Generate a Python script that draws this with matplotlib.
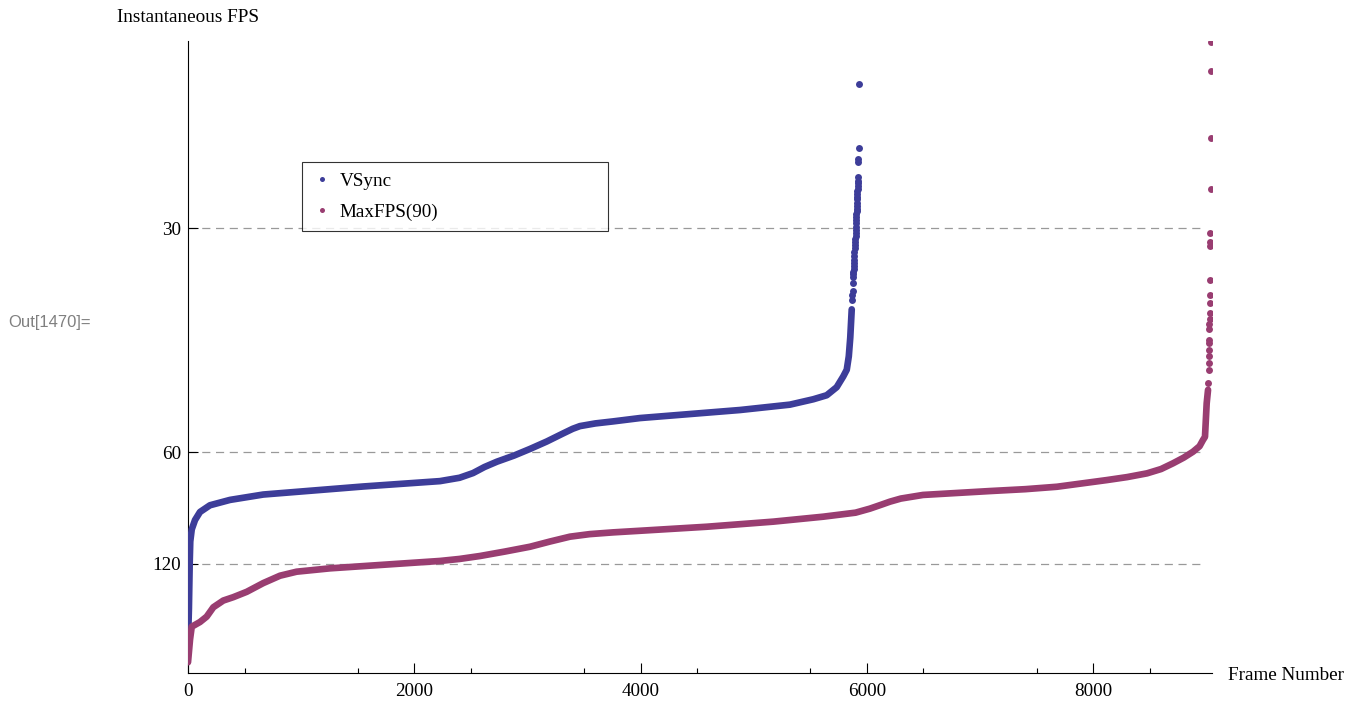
import numpy as np
import matplotlib.pyplot as plt
from matplotlib.lines import Line2D

plt.rcParams['font.family'] = ['Liberation Serif', 'DejaVu Serif']

# frame time in ms for sorted frames (y axis is 1/FPS, labelled in FPS)
vsync_frame = [0, 8, 15, 20, 33, 62, 106, 194, 371, 665, 1107, 1549, 2227, 2400, 2519,
               2620, 2731, 2880, 3023, 3170, 3314, 3400, 3464, 3600, 3756, 3995, 4437,
               4879, 5320, 5526, 5645, 5733, 5791, 5822, 5840, 5853, 5866]
vsync_ms = [2.5, 5.0, 8.4, 10.0, 10.9, 11.6, 12.2, 12.7, 13.1, 13.5, 13.8, 14.1, 14.5, 14.75,
            15.1, 15.55, 15.95, 16.4, 16.9, 17.45, 18.05, 18.4, 18.6, 18.8, 18.95, 19.2, 19.5,
            19.8, 20.2, 20.6, 20.9, 21.5, 22.3, 22.8, 23.8, 25.2, 27.3]
vsync_tail_frame = [5870, 5872, 5874, 5876, 5878, 5880, 5881, 5882, 5884, 5886, 5887, 5888,
                    5890, 5894, 5896, 5897, 5898, 5900, 5901, 5903, 5904, 5905, 5906, 5907,
                    5908, 5909, 5910, 5911, 5912, 5913, 5914, 5915, 5916, 5917, 5918, 5919,
                    5920, 5921, 5923, 5925, 5927, 5930]
vsync_tail_ms = [28.0, 28.35, 28.7, 29.3, 29.7, 29.9, 30.1, 30.3, 30.5, 30.75, 31.0, 31.3,
                 31.6, 31.9, 32.1, 32.3, 32.55, 32.8, 33.0, 33.2, 33.45, 33.7, 33.95, 34.2,
                 34.4, 34.6, 34.8, 35.0, 35.25, 35.5, 35.7, 35.9, 36.1, 36.3, 36.5, 36.7,
                 36.9, 37.2, 38.3, 38.5, 39.3, 44.1]

maxfps_frame = [0, 18, 33, 106, 165, 224, 312, 400, 519, 665, 813, 960, 1255, 1697, 2227,
                2400, 2581, 2800, 3023, 3200, 3376, 3550, 3756, 3995, 4348, 4584, 5173, 5615,
                5900, 6027, 6130, 6204, 6300, 6496, 7088, 7400, 7680, 8122, 8300, 8476,
                8600, 8706, 8800, 8882, 8940, 8970, 8988, 9003, 9015]
maxfps_ms = [1.0, 2.7, 3.65, 4.0, 4.4, 5.1, 5.6, 5.85, 6.25, 6.9, 7.45, 7.75, 8.0, 8.25, 8.55,
             8.7, 8.92, 9.25, 9.61, 10.0, 10.36, 10.55, 10.68, 10.8, 10.98, 11.1, 11.48, 11.85,
             12.15, 12.45, 12.75, 12.97, 13.2, 13.47, 13.76, 13.9, 14.08, 14.58, 14.8, 15.08,
             15.4, 15.83, 16.25, 16.69, 17.1, 17.56, 17.8, 20.3, 21.3]
maxfps_tail_frame = [9018, 9020, 9021, 9022, 9023, 9024, 9025, 9026, 9027, 9028, 9029,
                     9030, 9031, 9032, 9034, 9035, 9036, 9037, 9038, 9040, 9041]
maxfps_tail_ms = [21.8, 22.8, 23.3, 23.8, 24.3, 24.8, 25.0, 25.8, 26.2, 26.6, 27.0,
                  27.75, 28.4, 29.5, 32.0, 32.3, 33.0, 36.3, 40.1, 45.1, 47.2]

fps_ticks = [30, 60, 120]
series_names = ['VSync', 'MaxFPS(90)']
colors = ['#3D3D99', '#993D71']

W, H = 1362, 705
fig = plt.figure(figsize=(W / 100, H / 100), dpi=100)
ax = fig.add_axes([188 / W, 1 - 673 / H, (1212 - 188) / W, (673 - 41) / H])

lw = 4.8   # ~7 px band made of overlapping points
ms = 5.0
for fr, y, tfr, ty, c in [(vsync_frame, vsync_ms, vsync_tail_frame, vsync_tail_ms, colors[0]),
                          (maxfps_frame, maxfps_ms, maxfps_tail_frame, maxfps_tail_ms, colors[1])]:
    ax.plot(fr, y, color=c, lw=lw, solid_capstyle='round', solid_joinstyle='round', zorder=3)
    ax.plot(tfr, ty, 'o', color=c, ms=ms, mew=0, zorder=3)

ax.set_xlim(0, 9050)
ax.set_ylim(0.2, 47.3)

tick_ms = [1000 / f for f in fps_ticks]
ax.hlines(tick_ms, 0, 8970, colors='#999999', lw=0.9, linestyles=(0, (6.5, 4.5)), zorder=1)

ax.set_yticks(tick_ms)
ax.set_yticklabels([str(f) for f in fps_ticks])
ax.set_xticks([0, 2000, 4000, 6000, 8000])
ax.set_xticks(np.arange(500, 9001, 1000), minor=True)
ax.tick_params(axis='both', which='major', direction='in', length=7, width=0.8,
               labelsize=13.8)
ax.tick_params(axis='x', which='minor', direction='in', length=3.5, width=0.8)
ax.tick_params(axis='x', which='major', pad=7)
ax.tick_params(axis='y', pad=5)

for s in ['top', 'right']:
    ax.spines[s].set_visible(False)
for s in ['left', 'bottom']:
    ax.spines[s].set_linewidth(0.8)

fig.text(188 / W, 1 - 18 / H, 'Instantaneous FPS', ha='center', va='center', fontsize=13.8)
fig.text(1228 / W, 1 - 675 / H, 'Frame Number', ha='left', va='center', fontsize=13.8)
fig.text(8 / W, 1 - 322 / H, 'Out[1470]=', ha='left', va='center', fontsize=12,
         color='#808080', family=['Liberation Sans', 'DejaVu Sans'])

handles = [Line2D([], [], ls='none', marker='o', ms=3.6, mew=0, color=c) for c in colors]
leg = fig.legend(handles, series_names, loc='upper left',
                 bbox_to_anchor=(302 / W, 1 - 230 / H, (608 - 302) / W, (230 - 162) / H),
                 mode='expand', borderaxespad=0, fontsize=13.8, frameon=True, fancybox=False,
                 handlelength=1.0, handletextpad=0.4, borderpad=0.55, labelspacing=0.7)
leg.get_frame().set_edgecolor('black')
leg.get_frame().set_linewidth(0.8)

fig.savefig('out.png', dpi=100)
